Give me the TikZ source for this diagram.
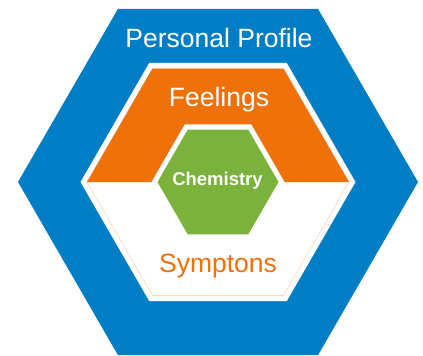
\documentclass[tikz,border=0pt]{standalone}
\usepackage{fontspec}
\setmainfont{Liberation Sans}
\usetikzlibrary{shapes.geometric}
\definecolor{profileblue}{RGB}{0,126,197}
\definecolor{feelorange}{RGB}{240,112,10}
\definecolor{chemgreen}{RGB}{122,178,60}
\definecolor{peach}{RGB}{252,214,186}

\begin{document}
\begin{tikzpicture}[
    x=1pt, y=-1pt,
    hexa/.style={regular polygon, regular polygon sides=6, inner sep=0pt, outer sep=0pt},
    bigtext/.style={anchor=base, font=\fontsize{26.5}{30}\selectfont},
    chemtext/.style={anchor=base, text=white, font=\fontsize{18.5}{22}\selectfont\bfseries}
]
    \useasboundingbox (0,0) rectangle (423,356);

    % hexagons, outside in
    \node[hexa, fill=profileblue, minimum size=400pt] (profile) at (218,182) {};
    \node[hexa, fill=white, minimum size=275pt] (ring) at (218,182) {};
    \node[hexa, draw=peach, line width=0.6pt, minimum size=262pt] (inner) at (218,182) {};
    \fill[feelorange] (inner.corner 6) -- (inner.corner 1) -- (inner.corner 2) -- (inner.corner 3) -- cycle;
    \node[hexa, fill=white, minimum size=133pt] (chemring) at (218,182) {};
    \node[hexa, fill=chemgreen, minimum size=121pt] (chem) at (218,182) {};

    % labels
    \node[bigtext, text=white] (profilelbl) at (219,47) {Personal Profile};
    \node[bigtext, text=white] (feellbl) at (219,106) {Feelings};
    \node[chemtext] (chemlbl) at (217.5,185) {Chemistry};
    \node[bigtext, text=feelorange] (symplbl) at (218,272) {Symptons};
\end{tikzpicture}
\end{document}
